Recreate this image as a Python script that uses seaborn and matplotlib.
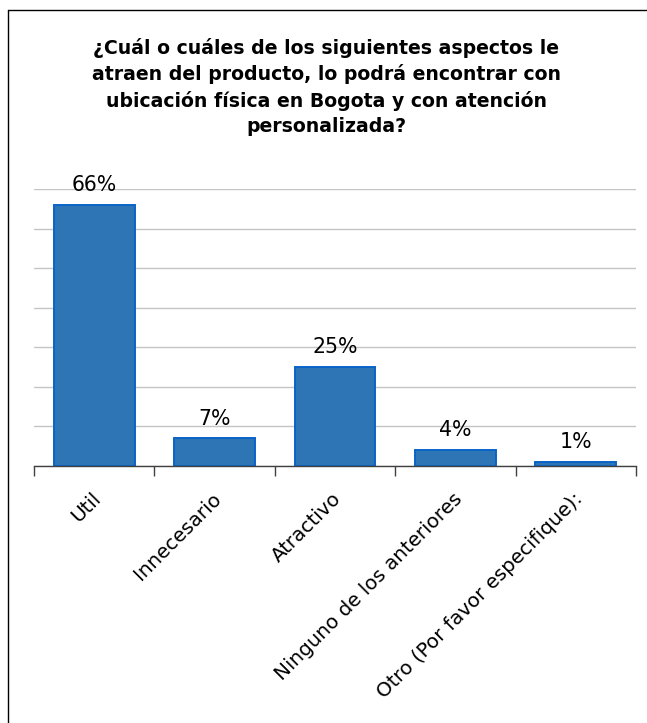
import matplotlib
matplotlib.use("Agg")
import matplotlib.pyplot as plt
import matplotlib.transforms as mtransforms
import seaborn as sns
import pandas as pd
from matplotlib.lines import Line2D

# Survey answers and their shares (percent)
categories = ["Util", "Innecesario", "Atractivo", "Ninguno de los anteriores",
              "Otro (Por favor especifique):"]
values = [66, 7, 25, 4, 1]
value_labels = ["66%", "7%", "25%", "4%", "1%"]
title = ("¿Cuál o cuáles de los siguientes aspectos le\n"
         "atraen del producto, lo podrá encontrar con\n"
         "ubicación física en Bogota y con atención\n"
         "personalizada?")

df = pd.DataFrame({"categoria": categories, "porcentaje": values})

sns.set_theme(style="white")
plt.rcParams["font.family"] = ["DejaVu Sans"]

fig = plt.figure(figsize=(6.47, 7.23), dpi=100)
ax = fig.add_axes([0.0526, 0.3555, 0.9304, 0.3831])

sns.barplot(data=df, x="categoria", y="porcentaje", ax=ax,
            color="#2E75B6", saturation=1, width=0.67,
            edgecolor="#0A64C8", linewidth=1.4, zorder=3)

ax.set_ylim(0, 70)
ax.set_xlim(-0.5, len(categories) - 0.5)
ax.set_yticks(range(0, 71, 10))
ax.set_yticklabels([])
ax.tick_params(axis="y", length=0)
ax.yaxis.grid(True, color="#C4C4C4", linewidth=1.0, zorder=0)
ax.xaxis.grid(False)
ax.set_axisbelow(True)

for s in ["top", "right", "left"]:
    ax.spines[s].set_visible(False)
ax.spines["bottom"].set_color("#404040")
ax.spines["bottom"].set_linewidth(1.0)
ax.spines["bottom"].set_zorder(4)

# Category boundaries carry the tick marks; labels sit at category centres
ax.set_xticks([i - 0.5 for i in range(len(categories) + 1)], minor=True)
ax.tick_params(axis="x", which="minor", length=7, width=1.0, color="#404040",
               direction="out", bottom=True)
ax.tick_params(axis="x", which="major", length=0, pad=16.5)
ax.set_xticks(range(len(categories)))
ax.set_xticklabels(categories, rotation=45, ha="right", va="top",
                   rotation_mode="anchor", fontsize=14.3, color="#000000")
shift = mtransforms.ScaledTranslation(-0.03, 0.0, fig.dpi_scale_trans)
for lab in ax.get_xticklabels():
    lab.set_transform(lab.get_transform() + shift)
ax.set_xlabel("")
ax.set_ylabel("")

for i, (v, lab) in enumerate(zip(values, value_labels)):
    ax.annotate(lab, (i, v), xytext=(0, 7), textcoords="offset points",
                ha="center", va="bottom", fontsize=14.8, color="#000000")

fig.text(0.504, 0.948, title, ha="center", va="top", fontsize=13.6,
         fontweight="bold", color="#000000", linespacing=1.42)

# Frame lines along the top and left of the figure
fig.add_artist(Line2D([8 / 647, 1], [1 - 10 / 723] * 2, color="#000000",
                      linewidth=1.0, transform=fig.transFigure))
fig.add_artist(Line2D([8 / 647] * 2, [0, 1 - 10 / 723], color="#000000",
                      linewidth=1.0, transform=fig.transFigure))

fig.savefig("out.png", dpi=100, facecolor="white")
